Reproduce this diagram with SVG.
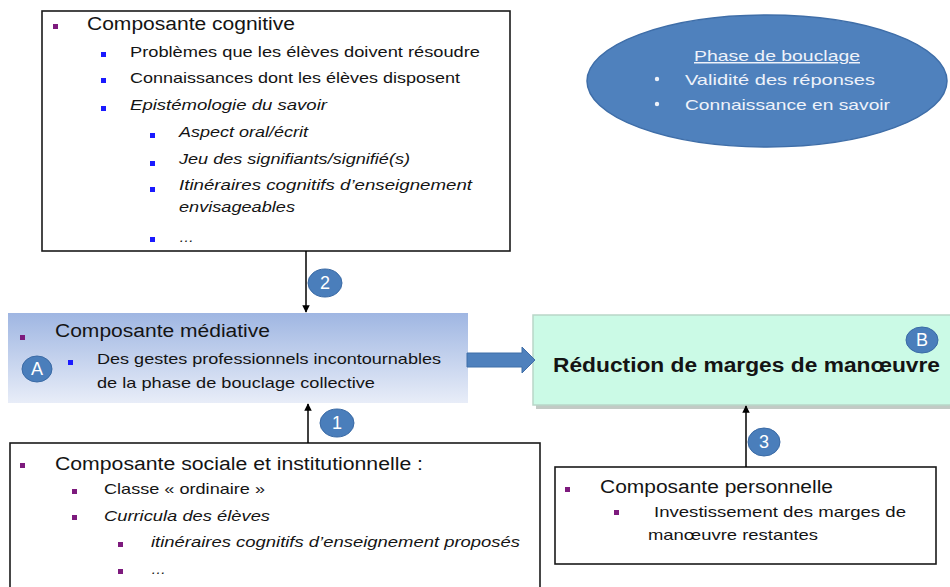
<svg xmlns="http://www.w3.org/2000/svg" width="950" height="587" viewBox="0 0 950 587">
<defs>
<style>
text{font-family:"Liberation Sans",Arial,sans-serif;fill:#141414}
.h{font-size:18px}
.s{font-size:15px}
.i{font-style:italic}
.w{fill:#eef2fa;font-size:15px}
.box{fill:#fff;stroke:#1a1a1a;stroke-width:1.6}
.bp{fill:#7d1a7d}
.bb{fill:#1a1aff}
.conn{stroke:#000;stroke-width:1.5;fill:none}
.badge{fill:#4a7ebb;stroke:#3a6aa5;stroke-width:1}
.bt{fill:#fff;font-size:18px;text-anchor:middle}
</style>
<linearGradient id="gmed" x1="0" y1="0" x2="0" y2="1">
<stop offset="0" stop-color="#9fb6e2"/>
<stop offset="1" stop-color="#e8edf8"/>
</linearGradient>
<marker id="ah" viewBox="0 0 10 10" refX="9" refY="5" markerWidth="5" markerHeight="5" orient="auto">
<path d="M0,0 L10,5 L0,10 z" fill="#000"/>
</marker>
</defs>

<g id="cognitive">
<rect class="box" x="42" y="11" width="468" height="240"/>
<rect class="bp" x="53" y="24" width="5" height="5"/>
<text class="h" x="87" y="30" textLength="208" lengthAdjust="spacingAndGlyphs">Composante cognitive</text>
<rect class="bb" x="101" y="52" width="5" height="5"/>
<text class="s" x="130" y="57" textLength="350" lengthAdjust="spacingAndGlyphs">Problèmes que les élèves doivent résoudre</text>
<rect class="bb" x="101" y="78" width="5" height="5"/>
<text class="s" x="130" y="83" textLength="330" lengthAdjust="spacingAndGlyphs">Connaissances dont les élèves disposent</text>
<rect class="bb" x="101" y="106" width="5" height="5"/>
<text class="s i" x="130" y="110" textLength="197" lengthAdjust="spacingAndGlyphs">Epistémologie du savoir</text>
<rect class="bb" x="150" y="133" width="5" height="5"/>
<text class="s i" x="179" y="137" textLength="129" lengthAdjust="spacingAndGlyphs">Aspect oral/écrit</text>
<rect class="bb" x="150" y="161" width="5" height="5"/>
<text class="s i" x="179" y="164" textLength="231" lengthAdjust="spacingAndGlyphs">Jeu des signifiants/signifié(s)</text>
<rect class="bb" x="150" y="187" width="5" height="5"/>
<text class="s i" x="179" y="190" textLength="293" lengthAdjust="spacingAndGlyphs">Itinéraires cognitifs  d’enseignement</text>
<text class="s i" x="179" y="212" textLength="116" lengthAdjust="spacingAndGlyphs">envisageables</text>
<rect class="bb" x="150" y="237" width="5" height="5"/>
<text class="s i" x="179" y="242">…</text>
</g>

<g id="phase-bouclage">
<ellipse cx="767" cy="81" rx="180" ry="66" fill="#4f81bd" stroke="#3f6ea8" stroke-width="1.5"/>
<text class="w" x="777" y="61" text-anchor="middle" text-decoration="underline" textLength="166" lengthAdjust="spacingAndGlyphs">Phase de bouclage</text>
<circle cx="657" cy="79" r="2.2" fill="#eef2fa"/>
<text class="w" x="685" y="85" textLength="190" lengthAdjust="spacingAndGlyphs">Validité des réponses</text>
<circle cx="657" cy="104" r="2.2" fill="#eef2fa"/>
<text class="w" x="685" y="110" textLength="205" lengthAdjust="spacingAndGlyphs">Connaissance en savoir</text>
</g>

<g id="mediative">
<rect x="8" y="313" width="460" height="90" fill="url(#gmed)"/>
<rect class="bp" x="20" y="335" width="5" height="5"/>
<text class="h" x="55" y="337" textLength="215" lengthAdjust="spacingAndGlyphs">Composante médiative</text>
<rect class="bb" x="68" y="360" width="5" height="5"/>
<text class="s" x="97" y="364" textLength="344" lengthAdjust="spacingAndGlyphs">Des gestes professionnels incontournables</text>
<text class="s" x="97" y="388" textLength="278" lengthAdjust="spacingAndGlyphs">de la phase de bouclage collective</text>
<ellipse class="badge" cx="37" cy="369" rx="15" ry="13"/>
<text class="bt" x="37" y="375">A</text>
</g>

<g id="reduction">
<rect x="536" y="318" width="416" height="91" fill="#9aa79f" opacity="0.6"/>
<rect x="533" y="315" width="419" height="90" fill="#cbfae6" stroke="#b9d6c8" stroke-width="1.5"/>
<text x="553" y="372" font-weight="bold" font-size="20" textLength="387" lengthAdjust="spacingAndGlyphs">Réduction de marges de manœuvre</text>
<ellipse class="badge" cx="922" cy="340" rx="16" ry="13"/>
<text class="bt" x="922" y="346">B</text>
</g>

<g id="sociale">
<rect class="box" x="10" y="443" width="530" height="150"/>
<rect class="bp" x="20" y="463" width="5" height="5"/>
<text class="h" x="55" y="470" textLength="368" lengthAdjust="spacingAndGlyphs">Composante sociale et institutionnelle :</text>
<rect class="bp" x="72" y="489" width="5" height="5"/>
<text class="s" x="104" y="494" textLength="161" lengthAdjust="spacingAndGlyphs">Classe « ordinaire »</text>
<rect class="bp" x="72" y="515" width="5" height="5"/>
<text class="s i" x="104" y="521" textLength="166" lengthAdjust="spacingAndGlyphs">Curricula des élèves</text>
<rect class="bp" x="118" y="542" width="5" height="5"/>
<text class="s i" x="151" y="547" textLength="369" lengthAdjust="spacingAndGlyphs">itinéraires cognitifs d’enseignement proposés</text>
<rect class="bp" x="118" y="569" width="5" height="5"/>
<text class="s i" x="151" y="574">…</text>
</g>

<g id="personnelle">
<rect class="box" x="555" y="467" width="381" height="97"/>
<rect class="bp" x="565" y="487" width="5" height="5"/>
<text class="h" x="600" y="493" textLength="233" lengthAdjust="spacingAndGlyphs">Composante personnelle</text>
<rect class="bp" x="614" y="510" width="5" height="5"/>
<text class="s" x="654" y="517" textLength="252" lengthAdjust="spacingAndGlyphs">Investissement des marges de</text>
<text class="s" x="648" y="540" textLength="170" lengthAdjust="spacingAndGlyphs">manœuvre restantes</text>
</g>

<g id="connectors">
<line class="conn" x1="306" y1="251" x2="306" y2="312" marker-end="url(#ah)"/>
<line class="conn" x1="308" y1="443" x2="308" y2="404" marker-end="url(#ah)"/>
<line class="conn" x1="746" y1="467" x2="746" y2="406" marker-end="url(#ah)"/>
<path d="M467,353 H522 V347 L535,360 L522,373 V367 H467 Z" fill="#4f81bd" stroke="#3f6ea8" stroke-width="1"/>
<ellipse class="badge" cx="325" cy="283" rx="17" ry="14"/>
<text class="bt" x="325" y="289">2</text>
<ellipse class="badge" cx="337" cy="423" rx="17" ry="14"/>
<text class="bt" x="337" y="429">1</text>
<ellipse class="badge" cx="764" cy="442" rx="16" ry="14"/>
<text class="bt" x="764" y="448">3</text>
</g>
</svg>
